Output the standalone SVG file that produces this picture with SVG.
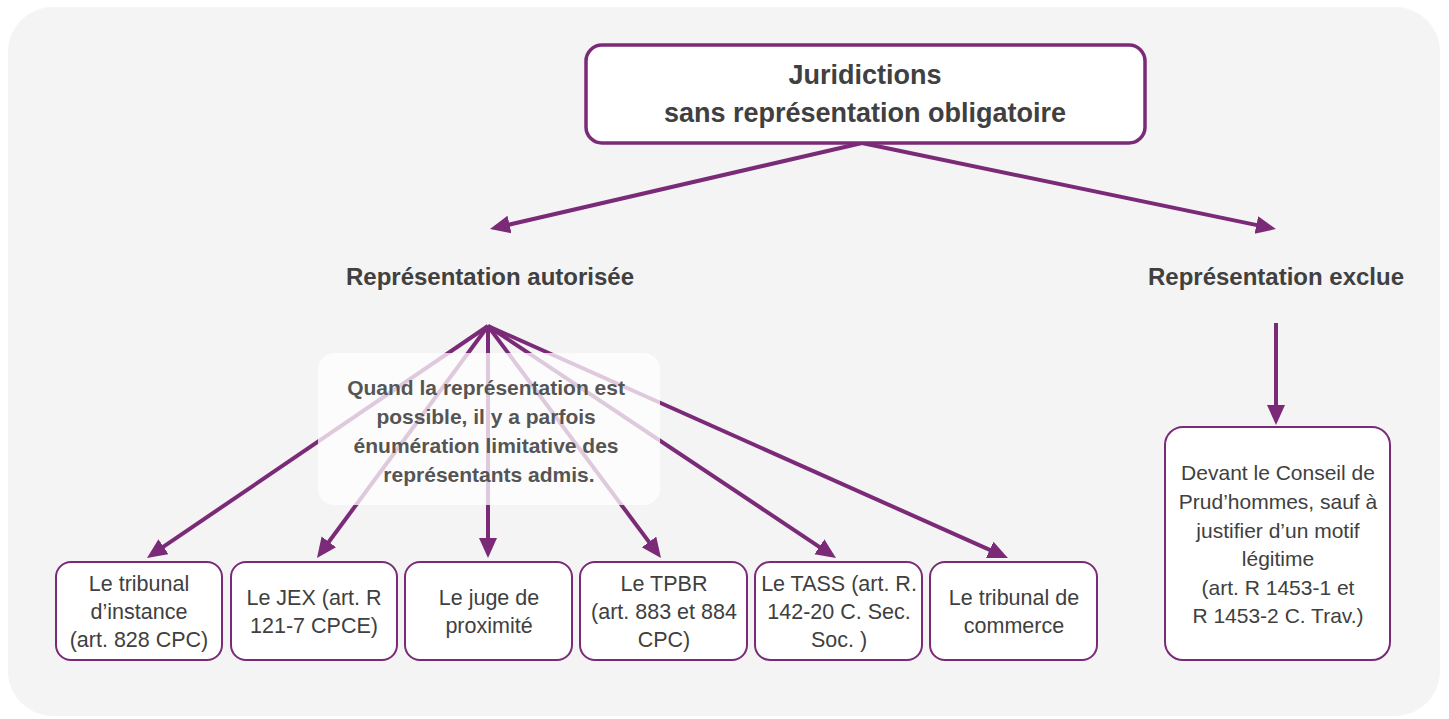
<svg xmlns="http://www.w3.org/2000/svg" width="1449" height="719" viewBox="0 0 1449 719">
<defs>
<marker id="ah" markerUnits="userSpaceOnUse" markerWidth="22" markerHeight="20" refX="8" refY="9" orient="auto">
<path d="M0,0 L20,9 L0,18 z" fill="#7b2a78"/>
</marker>
</defs>
<style>
.box{fill:#ffffff;stroke:#7b2a78;stroke-width:2}
.title{fill:#ffffff;stroke:#7b2a78;stroke-width:3.5}
.t{font-family:"Liberation Sans",Arial,sans-serif;font-size:21.5px;fill:#404040;text-anchor:middle}
.b{font-family:"Liberation Sans",Arial,sans-serif;font-weight:bold;fill:#404040;text-anchor:middle}
.c{stroke:#7b2a78;stroke-width:4;fill:none;marker-end:url(#ah)}
</style>
<rect x="8" y="7" width="1432" height="709" rx="45" fill="#f4f4f4"/>
<g id="connectors">
<line class="c" x1="862" y1="143" x2="501.7" y2="226.3"/>
<line class="c" x1="862" y1="143" x2="1264.2" y2="226.6"/>
<line class="c" x1="1276" y1="323" x2="1276" y2="413"/>
<line class="c" x1="488" y1="326" x2="156.9" y2="551.2"/>
<line class="c" x1="488" y1="326" x2="324.1" y2="548.3"/>
<line class="c" x1="488" y1="326" x2="488" y2="546"/>
<line class="c" x1="488" y1="326" x2="653.8" y2="548.4"/>
<line class="c" x1="488" y1="326" x2="826" y2="551.3"/>
<line class="c" x1="488" y1="326" x2="997" y2="553.1"/>
</g>
<g id="note">
<rect x="318" y="353" width="342" height="152" rx="16" fill="#ffffff" fill-opacity="0.75"/>
<text class="b" font-size="21" style="fill:#555555">
<tspan x="489" y="395">Quand la représentation est</tspan>
<tspan x="489" y="424">possible, il y a parfois</tspan>
<tspan x="489" y="453">énumération limitative des</tspan>
<tspan x="489" y="482">représentants admis.</tspan>
</text>
</g>
<g id="root">
<rect class="title" x="586" y="45" width="559" height="98" rx="16"/>
<text class="b" font-size="27"><tspan x="865" y="84">Juridictions</tspan><tspan x="865" y="122">sans représentation obligatoire</tspan></text>
</g>
<g id="autorisee">
<text class="b" font-size="24" x="490" y="285">Représentation autorisée</text>
</g>
<g id="exclue">
<text class="b" font-size="24" x="1276" y="285">Représentation exclue</text>
</g>
<g id="n1">
<rect class="box" x="56" y="562" width="166" height="98" rx="15"/>
<text class="t"><tspan x="139" y="591">Le tribunal</tspan><tspan x="139" y="619">d’instance</tspan><tspan x="139" y="647">(art. 828 CPC)</tspan></text>
</g>
<g id="n2">
<rect class="box" x="231" y="562" width="166" height="98" rx="15"/>
<text class="t"><tspan x="314" y="605">Le JEX (art. R</tspan><tspan x="314" y="633">121-7 CPCE)</tspan></text>
</g>
<g id="n3">
<rect class="box" x="405" y="562" width="167" height="98" rx="15"/>
<text class="t"><tspan x="489" y="605">Le juge de</tspan><tspan x="489" y="633">proximité</tspan></text>
</g>
<g id="n4">
<rect class="box" x="580" y="562" width="167" height="98" rx="15"/>
<text class="t"><tspan x="664" y="591">Le TPBR</tspan><tspan x="664" y="619">(art. 883 et 884</tspan><tspan x="664" y="647">CPC)</tspan></text>
</g>
<g id="n5">
<rect class="box" x="755" y="562" width="167" height="98" rx="15"/>
<text class="t"><tspan x="839" y="591">Le TASS (art. R.</tspan><tspan x="839" y="619">142-20 C. Sec.</tspan><tspan x="839" y="647">Soc. )</tspan></text>
</g>
<g id="n6">
<rect class="box" x="930" y="562" width="167" height="98" rx="15"/>
<text class="t"><tspan x="1014" y="605">Le tribunal de</tspan><tspan x="1014" y="633">commerce</tspan></text>
</g>
<g id="n7">
<rect class="box" x="1165" y="427" width="225" height="233" rx="18"/>
<text class="t" font-size="21" style="font-size:21px"><tspan x="1278" y="480">Devant le Conseil de</tspan><tspan x="1278" y="509">Prud’hommes, sauf à</tspan><tspan x="1278" y="538">justifier d’un motif</tspan><tspan x="1278" y="566">légitime</tspan><tspan x="1278" y="595">(art. R 1453-1 et</tspan><tspan x="1278" y="623">R 1453-2 C. Trav.)</tspan></text>
</g>
</svg>
